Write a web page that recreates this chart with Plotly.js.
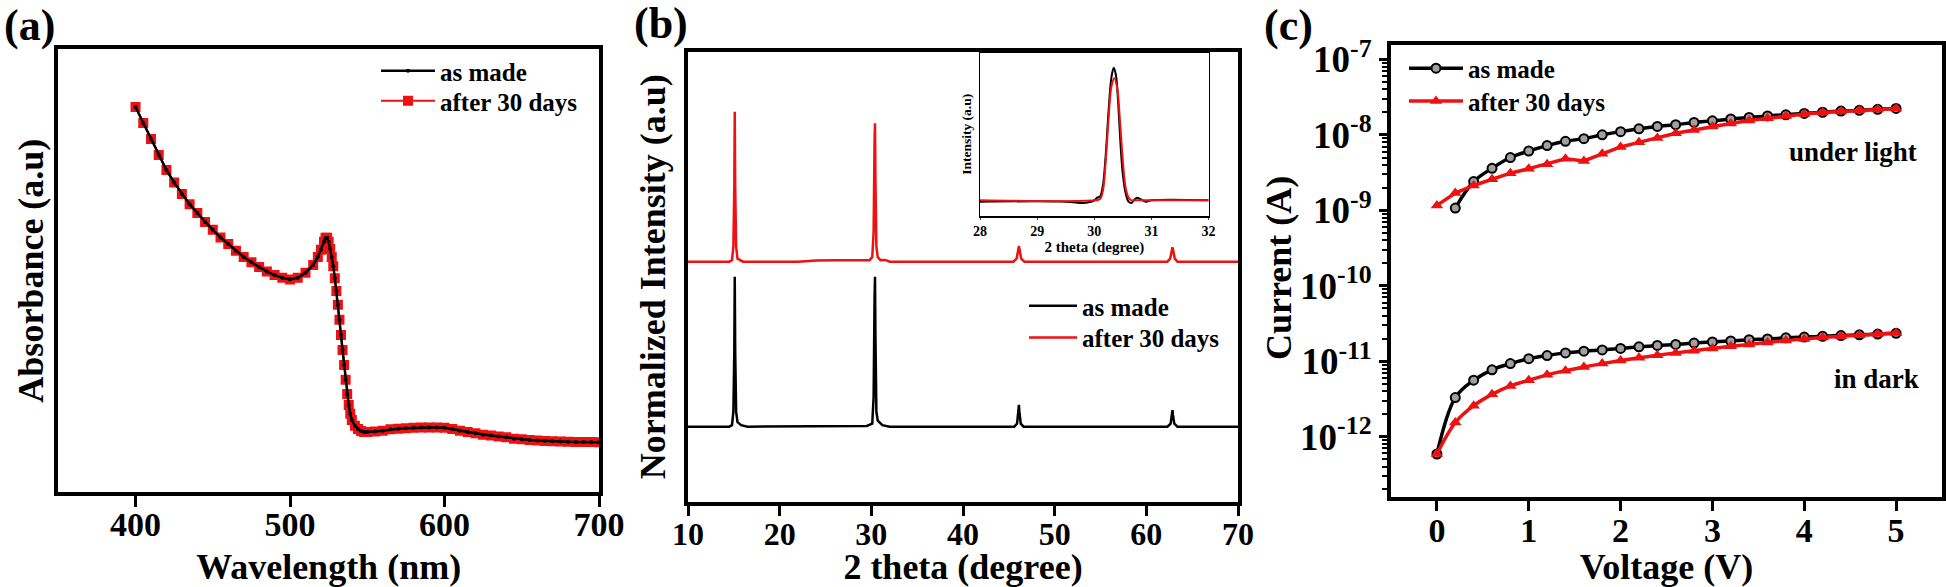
<!DOCTYPE html>
<html>
<head>
<meta charset="utf-8">
<script src="https://cdn.plot.ly/plotly-3.0.1.min.js"></script>
<style>html,body{margin:0;padding:0;background:#fff;}#chart{width:1946px;height:587px;}</style>
</head>
<body>
<div id="chart"></div>
<script>
// ---------- (a) UV-Vis absorbance ----------
const wavelength = [400,405,410,415,420,425,430,435,440,445,450,455,460,465,470,475,480,485,490,495,500,505,510,515,518,520,522,523,524,525,526,527,528,529,530,531,532,533,534,535,536,537,538,539,540,542,544,546,548,550,555,560,565,570,575,580,585,590,595,600,605,610,615,620,625,630,635,640,645,650,655,660,665,670,675,680,685,690,695,700];
const absAsMade = [0.869,0.833,0.797,0.761,0.727,0.699,0.673,0.650,0.630,0.610,0.592,0.575,0.560,0.545,0.531,0.519,0.508,0.498,0.490,0.484,0.480,0.484,0.495,0.513,0.531,0.547,0.565,0.574,0.574,0.565,0.549,0.531,0.510,0.483,0.454,0.423,0.389,0.355,0.321,0.287,0.254,0.222,0.197,0.177,0.163,0.150,0.143,0.138,0.136,0.136,0.137,0.139,0.142,0.1435,0.1446,0.1455,0.146,0.146,0.146,0.1455,0.143,0.139,0.136,0.133,0.130,0.128,0.126,0.124,0.121,0.1195,0.118,0.117,0.116,0.115,0.1146,0.114,0.1137,0.1135,0.1132,0.113];
const absAfter30 = [0.869,0.833,0.797,0.761,0.727,0.699,0.673,0.650,0.630,0.610,0.592,0.575,0.560,0.545,0.531,0.519,0.508,0.498,0.490,0.484,0.480,0.484,0.495,0.513,0.531,0.547,0.565,0.574,0.574,0.565,0.549,0.531,0.510,0.483,0.454,0.423,0.389,0.355,0.321,0.287,0.254,0.222,0.197,0.177,0.163,0.150,0.143,0.138,0.136,0.136,0.137,0.139,0.142,0.1435,0.1446,0.1455,0.146,0.146,0.146,0.1455,0.143,0.139,0.136,0.133,0.130,0.128,0.126,0.124,0.121,0.1195,0.118,0.117,0.116,0.115,0.1146,0.114,0.1137,0.1135,0.1132,0.113];

// ---------- (b) XRD ----------
const xrdThetaAsMade = [10,14.5,14.8,14.95,15.05,15.1,15.15,15.25,15.4,15.8,16.5,27,28,29.5,30.1,30.25,30.35,30.4,30.45,30.55,30.7,31.2,32,45.6,45.9,46.05,46.1,46.15,46.3,46.6,62.3,62.65,62.8,62.85,62.9,63.05,63.4,70];
const xrdIntAsMade = [0,0,0.01,0.1,0.5,1.0,0.5,0.1,0.03,0.01,0,0,0.005,0.005,0.02,0.2,0.85,1.0,0.6,0.1,0.04,0.01,0,0,0.02,0.1,0.145,0.1,0.02,0,0,0.02,0.09,0.111,0.08,0.02,0,0];
const xrdThetaAfter30 = [10,14.5,14.8,14.95,15.05,15.1,15.15,15.25,15.4,16,22,24,26,28,29,29.8,30.1,30.25,30.35,30.4,30.45,30.55,30.7,31,31.5,32,45.5,45.85,46.0,46.1,46.2,46.35,46.7,62.3,62.6,62.75,62.85,62.95,63.1,63.4,70];
const xrdIntAfter30 = [0,0,0.01,0.1,0.5,1.0,0.5,0.1,0.02,0,0,0.008,0.01,0.01,0.008,0.01,0.03,0.2,0.8,0.923,0.55,0.1,0.03,0.01,0.012,0,0,0.02,0.07,0.105,0.07,0.02,0,0,0.02,0.07,0.096,0.07,0.02,0,0];
const xrdOffsetAfter30 = 1.1;

// inset (28-32 degree)
const insetThetaAsMade = [28,29.5,29.8,29.9,30.0,30.05,30.1,30.15,30.2,30.25,30.3,30.34,30.38,30.42,30.46,30.5,30.55,30.6,30.65,30.7,30.75,30.8,30.9,31.0,32];
const insetIntAsMade = [0,0,-0.01,-0.005,0.01,0.03,0.04,0.12,0.35,0.68,0.93,1.0,0.94,0.72,0.42,0.2,0.06,0.0,-0.01,0.015,0.03,0.02,0.0,0.01,0.01];
const insetThetaAfter30 = [28,30.0,30.1,30.15,30.2,30.25,30.3,30.35,30.4,30.45,30.5,30.55,30.6,30.65,30.7,32];
const insetIntAfter30 = [0.01,0.01,0.02,0.08,0.3,0.62,0.86,0.921,0.85,0.6,0.3,0.1,0.03,0.01,0.01,0.01];

// ---------- (c) I-V ----------
const voltageLightAsMade = [0.2,0.4,0.6,0.8,1.0,1.2,1.4,1.6,1.8,2.0,2.2,2.4,2.6,2.8,3.0,3.2,3.4,3.6,3.8,4.0,4.2,4.4,4.6,4.8,5.0];
const currentLightAsMade = [1.07e-9,2.4e-9,3.6e-9,5.0e-9,6.1e-9,7.2e-9,8.2e-9,8.9e-9,1.0e-8,1.1e-8,1.2e-8,1.29e-8,1.36e-8,1.46e-8,1.53e-8,1.62e-8,1.7e-8,1.78e-8,1.84e-8,1.92e-8,1.99e-8,2.06e-8,2.11e-8,2.18e-8,2.24e-8];
const voltage = [0,0.2,0.4,0.6,0.8,1.0,1.2,1.4,1.6,1.8,2.0,2.2,2.4,2.6,2.8,3.0,3.2,3.4,3.6,3.8,4.0,4.2,4.4,4.6,4.8,5.0];
const currentLightAfter30 = [1.16e-9,1.69e-9,2.13e-9,2.58e-9,3.1e-9,3.56e-9,4.08e-9,4.8e-9,4.5e-9,5.6e-9,6.9e-9,7.95e-9,9.1e-9,1.05e-8,1.16e-8,1.29e-8,1.41e-8,1.55e-8,1.66e-8,1.78e-8,1.88e-8,1.97e-8,2.04e-8,2.11e-8,2.16e-8,2.24e-8];
const currentDarkAsMade = [5.9e-13,3.3e-12,5.6e-12,7.7e-12,9.3e-12,1.08e-11,1.19e-11,1.29e-11,1.36e-11,1.41e-11,1.48e-11,1.55e-11,1.62e-11,1.67e-11,1.74e-11,1.8e-11,1.86e-11,1.93e-11,1.97e-11,2.04e-11,2.09e-11,2.14e-11,2.19e-11,2.24e-11,2.29e-11,2.34e-11];
const currentDarkAfter30 = [5.9e-13,1.54e-12,2.58e-12,3.64e-12,4.7e-12,5.6e-12,6.6e-12,7.5e-12,8.4e-12,9.3e-12,1.02e-11,1.11e-11,1.2e-11,1.29e-11,1.38e-11,1.48e-11,1.58e-11,1.67e-11,1.77e-11,1.88e-11,1.97e-11,2.06e-11,2.14e-11,2.21e-11,2.29e-11,2.37e-11];
const currentTickVals = [1e-12, 1e-11, 1e-10, 1e-9, 1e-8, 1e-7];
const currentTickText = ['10<sup>-12</sup>', '10<sup>-11</sup>', '10<sup>-10</sup>', '10<sup>-9</sup>', '10<sup>-8</sup>', '10<sup>-7</sup>'];

const seriesNames = ['as made', 'after 30 days'];

const RED = '#ee1111';
const BLACK = '#000000';
const FONT = 'Liberation Serif, Times New Roman, serif';
const W = 1946, H = 587;
const px = v => v / W;
const py = v => 1 - v / H;

// minor log ticks (2..9 in every decade)
const minorLogTicks = [];
for (let e = -13; e <= -7; e++) { for (let m = 2; m <= 9; m++) { minorLogTicks.push(m * Math.pow(10, e)); } }

const circleMarker = {symbol: 'circle', size: 9, color: '#a0a0a0', line: {color: BLACK, width: 2}};
const triMarker = {symbol: 'triangle-up', size: 11, color: RED};

const traces = [
  // (a)
  {x: wavelength, y: absAfter30, name: seriesNames[1], mode: 'lines+markers', xaxis: 'x', yaxis: 'y', legend: 'legend4',
   line: {color: RED, width: 2}, marker: {symbol: 'square', size: 10, color: RED}},
  {x: wavelength, y: absAsMade, name: seriesNames[0], mode: 'lines+markers', xaxis: 'x', yaxis: 'y', legend: 'legend',
   line: {color: BLACK, width: 2.5}, marker: {symbol: 'circle', size: 4, color: BLACK}},
  // (b)
  {x: xrdThetaAsMade, y: xrdIntAsMade, name: seriesNames[0], mode: 'lines', xaxis: 'x2', yaxis: 'y2', legend: 'legend2',
   line: {color: BLACK, width: 2.5}},
  {x: xrdThetaAfter30, y: xrdIntAfter30.map(v => v + xrdOffsetAfter30), name: seriesNames[1], mode: 'lines', xaxis: 'x2', yaxis: 'y2', legend: 'legend5',
   line: {color: RED, width: 2.5}},
  // inset
  {x: insetThetaAsMade, y: insetIntAsMade, name: seriesNames[0], mode: 'lines', xaxis: 'x3', yaxis: 'y3', showlegend: false,
   line: {color: BLACK, width: 2, shape: 'spline'}},
  {x: insetThetaAfter30, y: insetIntAfter30, name: seriesNames[1], mode: 'lines', xaxis: 'x3', yaxis: 'y3', showlegend: false,
   line: {color: RED, width: 2, shape: 'spline'}},
  // (c)
  {x: voltageLightAsMade, y: currentLightAsMade, name: seriesNames[0], mode: 'lines+markers', xaxis: 'x4', yaxis: 'y4', legend: 'legend3',
   line: {color: BLACK, width: 3.5, shape: 'spline'}, marker: circleMarker},
  {x: voltage, y: currentDarkAsMade, name: seriesNames[0], mode: 'lines+markers', xaxis: 'x4', yaxis: 'y4', showlegend: false,
   line: {color: BLACK, width: 3.5, shape: 'spline'}, marker: circleMarker},
  {x: voltage, y: currentLightAfter30, name: seriesNames[1], mode: 'lines+markers', xaxis: 'x4', yaxis: 'y4', legend: 'legend6',
   line: {color: RED, width: 3.5}, marker: triMarker},
  {x: voltage, y: currentDarkAfter30, name: seriesNames[1], mode: 'lines+markers', xaxis: 'x4', yaxis: 'y4', showlegend: false,
   line: {color: RED, width: 3.5, shape: 'spline'}, marker: triMarker}
];

const frame = {showline: true, linecolor: BLACK, linewidth: 4, mirror: true, showgrid: false, zeroline: false, automargin: false};
const tickFont = {family: FONT, size: 34, color: BLACK, weight: 'bold'};
const titleFont = {family: FONT, size: 36, color: BLACK, weight: 'bold'};
const legFont = {family: FONT, size: 25, color: BLACK, weight: 'bold'};
const mkLegend = (left, centerY, itemw) => ({x: px(left), y: py(centerY - 22), xanchor: 'left', yanchor: 'top', itemwidth: itemw,
  font: legFont, bgcolor: 'rgba(0,0,0,0)', borderwidth: 0});
const note = (text, x, y, size, extra) => Object.assign({text: text, x: px(x), y: py(y), xref: 'paper', yref: 'paper', xanchor: 'center', yanchor: 'middle',
  showarrow: false, font: {family: FONT, size: size, color: BLACK, weight: 'bold'}}, extra || {});

const layout = {
  width: W, height: H,
  margin: {l: 0, r: 0, t: 0, b: 0},
  paper_bgcolor: '#fff', plot_bgcolor: 'rgba(0,0,0,0)',
  font: {family: FONT, color: BLACK, weight: 'bold'},
  xaxis: Object.assign({}, frame, {domain: [px(58.3), px(599)], anchor: 'y', range: [350, 700], tickmode: 'array', tickvals: [400, 500, 600, 700],
    ticks: 'outside', ticklen: 11, tickwidth: 3, tickcolor: BLACK, tickfont: tickFont, ticklabelstandoff: -12,
    title: {text: 'Wavelength (nm)', font: titleFont, standoff: 16}}),
  yaxis: Object.assign({}, frame, {domain: [py(492.3), py(49)], anchor: 'x', range: [0, 1], showticklabels: false, ticks: '',
    title: {text: 'Absorbance (a.u)', font: titleFont, standoff: 1}}),
  xaxis2: Object.assign({}, frame, {domain: [px(688), px(1238)], anchor: 'y2', range: [10, 70], dtick: 10, tick0: 10,
    ticks: 'outside', ticklen: 10, tickwidth: 3, tickcolor: BLACK, tickfont: Object.assign({}, tickFont, {size: 32}), ticklabelstandoff: -9,
    title: {text: '2 theta (degree)', font: titleFont, standoff: 15}}),
  yaxis2: Object.assign({}, frame, {domain: [py(501.7), py(51.7)], anchor: 'x2', range: [-0.5, 2.5], showticklabels: false, ticks: '',
    title: {text: 'Normalized Intensity (a.u)', font: titleFont, standoff: 8}}),
  xaxis3: Object.assign({}, frame, {domain: [px(980), px(1208.6)], anchor: 'y3', range: [28, 32], dtick: 1, linewidth: 1.5,
    ticks: 'outside', ticklen: 2, tickwidth: 1, tickfont: {family: FONT, size: 14, color: BLACK, weight: 'bold'},
    title: {text: '2 theta (degree)', font: {family: FONT, size: 15, color: BLACK, weight: 'bold'}, standoff: 2}}),
  yaxis3: Object.assign({}, frame, {domain: [py(216), py(52.7)], anchor: 'x3', range: [-0.107, 1.112], linewidth: 1.5, showticklabels: false, ticks: '',
    title: {text: 'Intensity (a.u)', font: {family: FONT, size: 13.5, color: BLACK, weight: 'bold'}, standoff: 4}}),
  xaxis4: Object.assign({}, frame, {domain: [px(1391), px(1942)], anchor: 'y4', range: [-0.5, 5.5], dtick: 1, tick0: 0,
    ticks: 'outside', ticklen: 10, tickwidth: 3, tickcolor: BLACK, tickfont: Object.assign({}, tickFont, {size: 34}), ticklabelstandoff: -10,
    title: {text: 'Voltage (V)', font: titleFont, standoff: 14}}),
  yaxis4: Object.assign({}, frame, {domain: [py(496.7), py(45)], anchor: 'x4', type: 'log', range: [-12.795, -6.81],
    tickmode: 'array', tickvals: currentTickVals, ticktext: currentTickText,
    ticks: 'outside', ticklen: 8, tickwidth: 3, tickcolor: BLACK, tickfont: Object.assign({}, tickFont, {size: 37}),
    minor: {tickmode: 'array', tickvals: minorLogTicks, ticks: 'outside', ticklen: 5, tickwidth: 2, tickcolor: BLACK, showgrid: false}}),
  legend: mkLegend(376, 70, 54),
  legend4: mkLegend(376, 100, 54),
  legend2: mkLegend(1024, 305, 48),
  legend5: mkLegend(1024, 336.7, 48),
  legend3: mkLegend(1404, 67.4, 54),
  legend6: mkLegend(1404, 100.2, 54),
  annotations: [
    note('(a)', 29, 25, 44),
    note('(b)', 661, 23, 44),
    note('(c)', 1288, 25.5, 44),
    note('under light', 1853, 152.3, 27),
    note('in dark', 1876, 378.6, 27),
    note('Current (A)', 1279, 268, 36, {textangle: -90})
  ]
};

Plotly.newPlot('chart', traces, layout, {staticPlot: true, displayModeBar: false});
</script>
</body>
</html>
